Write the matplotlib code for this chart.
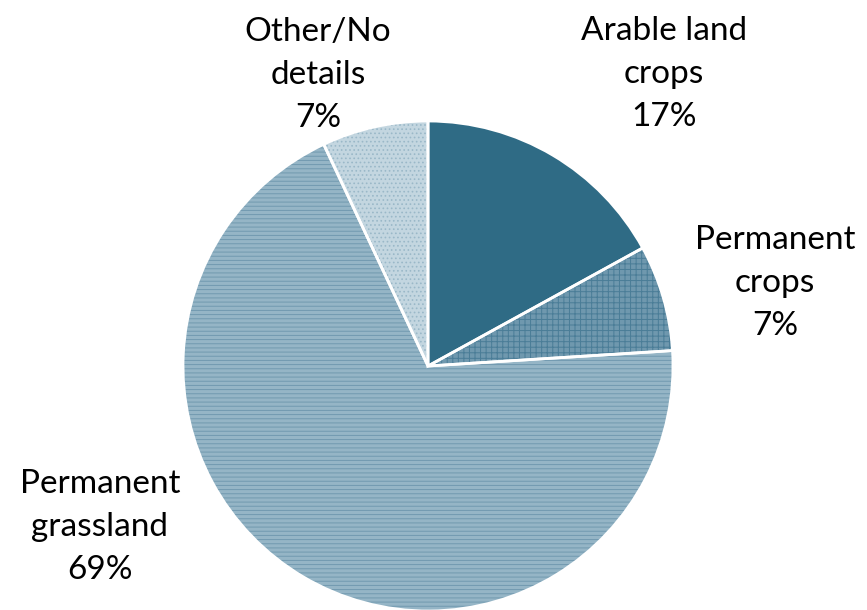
import numpy as np
import matplotlib.pyplot as plt

# DATOS
categorias = ['Arable land\ncrops', 'Permanent\ncrops', 'Permanent\ngrassland', 'Other/No\ndetails']
porcentajes = [17, 7, 69, 7]

# estilo
base = ['#2f6b85', '#6f98ae', '#95b5c6', '#c3d6e0']
trama = ['#2f6b85', '#4a7d97', '#7199af', '#9ab8c8']
patron = ['', '+++', '----', '....']
pos_etq = [(0.963, 1.192), (1.416, 0.339), (-1.339, -0.657), (-0.449, 1.188)]

plt.rcParams['font.family'] = ['Lato', 'DejaVu Sans']
plt.rcParams['hatch.linewidth'] = 0.7

fig = plt.figure(figsize=(8.67, 6.10), dpi=100)
ax = fig.add_axes([(428-245)/867, (610-366-245)/610, 490/867, 490/610])

# relleno con trama
cunas, _ = ax.pie(porcentajes, startangle=90, counterclock=False,
                  colors=base, wedgeprops=dict(linewidth=0))
for c, h, tc in zip(cunas, patron, trama):
    c.set_hatch(h)
    c.set_edgecolor(tc)

# bordes blancos encima
ax.pie(porcentajes, startangle=90, counterclock=False,
       wedgeprops=dict(fill=False, edgecolor='white', linewidth=2))

for nombre, p, (x, y) in zip(categorias, porcentajes, pos_etq):
    ax.text(x, y, nombre + '\n' + str(p) + '%', ha='center', va='center',
            fontsize=24, linespacing=1.55, color='black')

ax.set_xlim(-1, 1)
ax.set_ylim(-1, 1)
ax.set_aspect('equal')
ax.axis('off')

plt.savefig('out.png', dpi=100)
